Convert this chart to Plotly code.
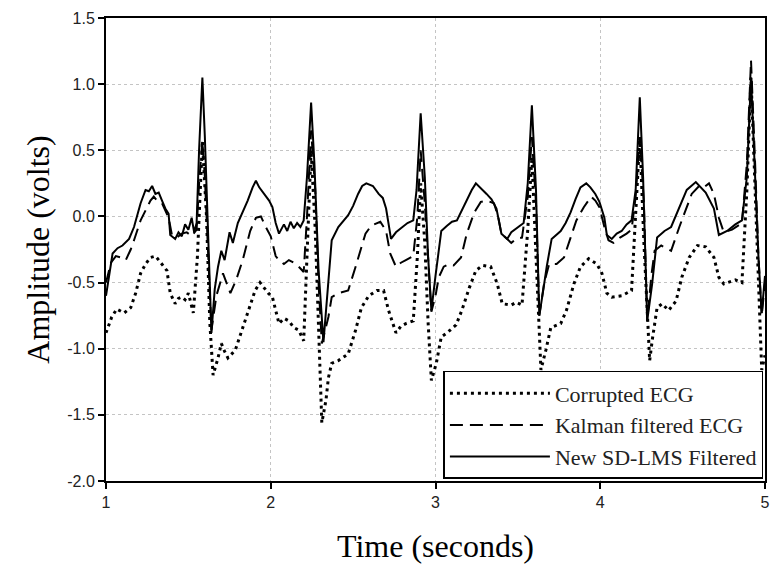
import plotly.graph_objects as go

# ---------------- data ----------------
t_corrupted = [1.00, 1.035, 1.065, 1.09, 1.11, 1.15, 1.18, 1.21, 1.24, 1.27, 1.30, 1.32, 1.34, 1.37, 1.39,
               1.42, 1.44, 1.46, 1.48, 1.50, 1.53, 1.555, 1.585, 1.61, 1.63, 1.65, 1.68, 1.70, 1.72, 1.74,
               1.785, 1.82, 1.865, 1.905, 1.935, 1.96, 1.985, 2.01, 2.05, 2.08, 2.11, 2.14, 2.17, 2.20,
               2.225, 2.245, 2.27, 2.29, 2.31, 2.335, 2.35, 2.37, 2.41, 2.47, 2.515, 2.55, 2.595, 2.645,
               2.685, 2.715, 2.76, 2.79, 2.82, 2.865, 2.89, 2.91, 2.935, 2.955, 2.975, 3.005, 3.035, 3.07,
               3.125, 3.16, 3.205, 3.245, 3.285, 3.335, 3.375, 3.405, 3.46, 3.49, 3.525, 3.56, 3.585, 3.61,
               3.64, 3.67, 3.70, 3.76, 3.795, 3.84, 3.88, 3.93, 3.98, 4.01, 4.04, 4.07, 4.13, 4.19, 4.215,
               4.24, 4.265, 4.30, 4.315, 4.345, 4.375, 4.415, 4.46, 4.495, 4.54, 4.59, 4.64, 4.69, 4.72,
               4.75, 4.82, 4.86, 4.89, 4.915, 4.94, 4.96, 4.98, 5.00]
v_corrupted = [-0.88, -0.76, -0.70, -0.72, -0.73, -0.69, -0.58, -0.43, -0.36, -0.31, -0.30, -0.33, -0.36, -0.41, -0.58,
               -0.66, -0.62, -0.61, -0.63, -0.58, -0.73, -0.30, 0.57, 0.00, -0.80, -1.20, -1.07, -0.96, -1.02, -1.07,
               -1.01, -0.88, -0.71, -0.56, -0.50, -0.54, -0.58, -0.61, -0.81, -0.77, -0.79, -0.84, -0.86, -0.94,
               -0.20, 0.50, -0.10, -0.90, -1.56, -1.39, -1.22, -1.11, -1.09, -1.04, -0.86, -0.69, -0.60, -0.56,
               -0.56, -0.71, -0.88, -0.83, -0.81, -0.79, -0.30, 0.25, -0.20, -0.80, -1.24, -1.11, -0.91, -0.88,
               -0.82, -0.71, -0.54, -0.41, -0.37, -0.38, -0.51, -0.66, -0.67, -0.65, -0.67, -0.10, 0.45, -0.30,
               -1.16, -1.01, -0.84, -0.81, -0.71, -0.51, -0.38, -0.32, -0.36, -0.43, -0.58, -0.61, -0.60, -0.56, 0.00,
               0.60, -0.20, -1.09, -0.94, -0.69, -0.66, -0.71, -0.64, -0.46, -0.31, -0.22, -0.23, -0.31, -0.46,
               -0.51, -0.48, -0.50, 0.20, 1.05, 0.20, -0.50, -1.16, -1.05]

t_kalman = [1.00, 1.03, 1.06, 1.09, 1.12, 1.15, 1.17, 1.21, 1.25, 1.27, 1.29, 1.31, 1.34, 1.36, 1.38,
            1.40, 1.43, 1.46, 1.49, 1.52, 1.55, 1.565, 1.585, 1.60, 1.62, 1.64, 1.67, 1.71, 1.755, 1.79,
            1.83, 1.875, 1.91, 1.94, 1.97, 2.00, 2.03, 2.05, 2.08, 2.11, 2.14, 2.17, 2.20, 2.22, 2.245,
            2.27, 2.29, 2.31, 2.35, 2.37, 2.41, 2.47, 2.515, 2.545, 2.575, 2.61, 2.665, 2.70, 2.725, 2.76,
            2.79, 2.82, 2.865, 2.89, 2.91, 2.935, 2.955, 2.975, 3.00, 3.02, 3.05, 3.08, 3.11, 3.155, 3.19,
            3.235, 3.275, 3.31, 3.355, 3.38, 3.40, 3.46, 3.49, 3.525, 3.56, 3.585, 3.61, 3.63, 3.66, 3.69,
            3.735, 3.78, 3.82, 3.855, 3.90, 3.945, 3.97, 3.995, 4.025, 4.05, 4.08, 4.12, 4.16, 4.19, 4.215,
            4.24, 4.265, 4.285, 4.31, 4.33, 4.37, 4.405, 4.43, 4.48, 4.52, 4.555, 4.60, 4.63, 4.66, 4.69,
            4.72, 4.75, 4.80, 4.86, 4.89, 4.915, 4.94, 4.96, 4.98, 5.00]
v_kalman = [-0.50, -0.35, -0.30, -0.31, -0.33, -0.25, -0.18, -0.03, 0.07, 0.12, 0.15, 0.12, 0.10, 0.04, -0.01,
            -0.14, -0.16, -0.13, -0.12, -0.15, -0.10, 0.25, 0.57, 0.30, -0.30, -0.86, -0.60, -0.43, -0.58, -0.48,
            -0.33, -0.11, -0.01, 0.00, -0.08, -0.15, -0.30, -0.33, -0.36, -0.33, -0.35, -0.38, -0.42, 0.00, 0.65,
            0.20, -0.50, -0.96, -0.76, -0.61, -0.58, -0.56, -0.38, -0.25, -0.13, -0.07, -0.04, -0.11, -0.28, -0.38,
            -0.35, -0.33, -0.30, 0.00, 0.50, 0.10, -0.35, -0.72, -0.60, -0.46, -0.38, -0.36, -0.37, -0.31, -0.13,
            0.03, 0.11, 0.12, 0.10, 0.00, -0.13, -0.20, -0.17, -0.16, 0.15, 0.60, 0.10, -0.75, -0.50, -0.36,
            -0.36, -0.31, -0.16, -0.03, 0.07, 0.15, 0.12, 0.07, -0.08, -0.18, -0.20, -0.16, -0.13, -0.10, 0.15,
            0.60, 0.10, -0.79, -0.45, -0.26, -0.22, -0.24, -0.26, -0.08, 0.05, 0.17, 0.23, 0.22, 0.25, 0.17,
            -0.01, -0.12, -0.10, -0.05, 0.40, 1.18, 0.40, -0.30, -0.75, -0.50]

t_sdlms = [1.00, 1.02, 1.04, 1.07, 1.10, 1.14, 1.17, 1.21, 1.24, 1.26, 1.28, 1.30, 1.32, 1.34, 1.36,
           1.38, 1.39, 1.42, 1.44, 1.46, 1.48, 1.50, 1.52, 1.535, 1.55, 1.565, 1.585, 1.60, 1.62, 1.64,
           1.66, 1.68, 1.70, 1.72, 1.75, 1.77, 1.80, 1.83, 1.86, 1.89, 1.91, 1.93, 1.96, 1.99, 2.01,
           2.03, 2.05, 2.08, 2.10, 2.12, 2.14, 2.16, 2.18, 2.20, 2.22, 2.245, 2.265, 2.29, 2.32, 2.35,
           2.37, 2.41, 2.47, 2.50, 2.53, 2.555, 2.58, 2.62, 2.655, 2.68, 2.70, 2.73, 2.76, 2.79, 2.83,
           2.865, 2.885, 2.91, 2.935, 2.955, 2.975, 3.00, 3.035, 3.07, 3.10, 3.13, 3.16, 3.19, 3.22, 3.245,
           3.28, 3.31, 3.34, 3.37, 3.40, 3.435, 3.46, 3.495, 3.535, 3.56, 3.585, 3.61, 3.63, 3.655, 3.675,
           3.705, 3.76, 3.79, 3.82, 3.85, 3.88, 3.915, 3.94, 3.97, 3.995, 4.025, 4.04, 4.07, 4.10, 4.13,
           4.16, 4.19, 4.215, 4.24, 4.26, 4.285, 4.315, 4.345, 4.39, 4.43, 4.48, 4.525, 4.58, 4.61, 4.64,
           4.69, 4.72, 4.77, 4.82, 4.86, 4.89, 4.915, 4.94, 4.96, 4.98, 5.00]
v_sdlms = [-0.60, -0.45, -0.28, -0.24, -0.22, -0.17, -0.08, 0.10, 0.20, 0.19, 0.23, 0.17, 0.18, 0.12, 0.06,
           0.02, -0.14, -0.17, -0.12, -0.15, -0.06, -0.10, -0.01, -0.12, -0.05, 0.50, 1.05, 0.60, -0.20, -0.88,
           -0.55, -0.38, -0.26, -0.33, -0.12, -0.20, -0.05, 0.03, 0.12, 0.22, 0.27, 0.22, 0.17, 0.12, 0.07,
           -0.05, -0.13, -0.06, -0.11, -0.04, -0.09, -0.05, -0.08, -0.03, 0.30, 0.86, 0.40, -0.40, -0.95, -0.46,
           -0.18, -0.08, 0.01, 0.08, 0.17, 0.23, 0.25, 0.23, 0.17, 0.14, 0.06, -0.17, -0.12, -0.09, -0.05,
           -0.03, 0.20, 0.78, 0.30, -0.30, -0.71, -0.45, -0.11, -0.07, -0.04, -0.03, 0.05, 0.12, 0.20, 0.25,
           0.21, 0.17, 0.13, 0.06, -0.13, -0.17, -0.12, -0.09, -0.05, 0.25, 0.84, 0.20, -0.75, -0.55, -0.38,
           -0.17, -0.11, -0.05, 0.03, 0.13, 0.22, 0.25, 0.22, 0.17, 0.11, -0.01, -0.14, -0.17, -0.13, -0.11,
           -0.06, -0.03, 0.20, 0.90, 0.30, -0.79, -0.51, -0.16, -0.11, -0.08, 0.07, 0.20, 0.26, 0.22, 0.18,
           0.06, -0.14, -0.11, -0.06, -0.03, 0.30, 1.05, 0.30, -0.30, -0.73, -0.45]

series_names = ["Corrupted ECG", "Kalman filtered ECG", "New SD-LMS Filtered"]
x_ticks = [1, 2, 3, 4, 5]
y_ticks = [-2.0, -1.5, -1.0, -0.5, 0.0, 0.5, 1.0, 1.5]

# ---------------- figure ----------------
fig = go.Figure()
fig.add_trace(go.Scatter(x=t_corrupted, y=v_corrupted, mode="lines", name=series_names[0],
                         line=dict(color="black", width=3, dash="3px,4px")))
fig.add_trace(go.Scatter(x=t_kalman, y=v_kalman, mode="lines", name=series_names[1],
                         line=dict(color="black", width=2, dash="13px,7px")))
fig.add_trace(go.Scatter(x=t_sdlms, y=v_sdlms, mode="lines", name=series_names[2],
                         line=dict(color="black", width=2)))

serif = "Liberation Serif, Times New Roman, serif"
sans = "Liberation Sans, Arial, sans-serif"

fig.update_layout(
    width=774, height=572,
    margin=dict(l=106, r=4, t=18, b=91),
    paper_bgcolor="white", plot_bgcolor="white",
    font=dict(family=sans, size=16, color="black"),
    showlegend=True,
    legend=dict(x=0.512, y=0.2376, xanchor="left", yanchor="top",
                bgcolor="white", bordercolor="black", borderwidth=1.5,
                font=dict(family=serif, size=22, color="#222"),
                itemwidth=100, tracegroupgap=0),
    xaxis=dict(range=[1, 5], tickvals=x_ticks, ticktext=[str(v) for v in x_ticks],
               ticks="outside", ticklen=6, tickwidth=1.5, tickcolor="black",
               showline=True, linecolor="black", linewidth=2, mirror=True,
               showgrid=True, gridcolor="#c4c4c4", griddash="dot", gridwidth=1,
               zeroline=False, tickfont=dict(family=sans, size=16, color="#222"),
               title=dict(text="Time (seconds)", font=dict(family=serif, size=32), standoff=24)),
    yaxis=dict(range=[-2.0, 1.5], tickvals=y_ticks, ticktext=["%.1f" % v for v in y_ticks],
               ticks="outside", ticklen=6, tickwidth=1.5, tickcolor="black",
               showline=True, linecolor="black", linewidth=2, mirror=True,
               showgrid=True, gridcolor="#c4c4c4", griddash="dot", gridwidth=1,
               zeroline=False, tickfont=dict(family=sans, size=16, color="#222"),
               title=dict(text="Amplitude (volts)", font=dict(family=serif, size=32), standoff=8)),
)

fig.write_html("out.html")
